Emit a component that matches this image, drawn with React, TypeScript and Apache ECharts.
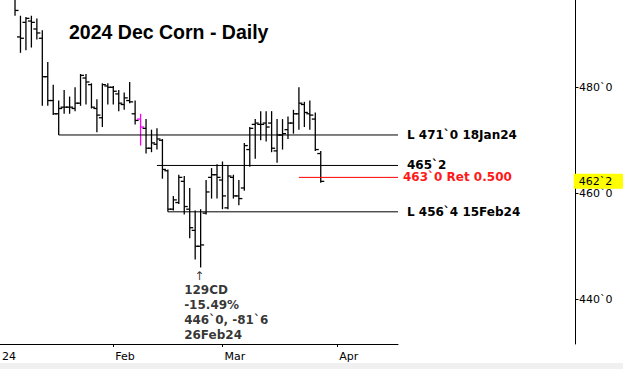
import React, { useEffect, useRef } from "react";
import * as echarts from "echarts";

// ---------- data ----------
const holidays = ["2024-01-15", "2024-02-19"];
const calendarStart = "2024-01-02";
const calendarEnd = "2024-04-19";
const firstBarDate = "2024-01-05";

const opens = [
  497.5, 489.5, 492.25, 492.5, 491, 489.25, 482, 477.5, 475, 476.25, 476.25, 476, 477, 481.75, 480.5, 476, 474.25, 480.25,
  480, 478.75, 476.75, 477.5, 475, 474, 472.25, 468.5, 469.25, 470, 464.25, 457, 458.25, 462.25, 457, 453, 450, 456.25,
  463, 463.5, 462.5, 457.25, 463, 459.5, 461, 468.25, 473, 473, 473.25, 473.25, 468, 471, 472, 473.25, 475, 476.75, 475,
  474, 467.5,
];
const highs = [
  498.5, 493.5, 493.25, 493.5, 493, 490.75, 484.75, 480.5, 477.5, 479.5, 478.25, 480, 482.5, 482.5, 480.75, 477.75, 480.75,
  480.75, 480.25, 479.5, 479, 481, 477.5, 475, 474, 472, 472.25, 470.25, 464.5, 459.5, 463.5, 463.25, 461, 456.75, 457,
  462.5, 464.75, 465.5, 466, 465.25, 463.5, 462.5, 469.5, 472.5, 474, 475.5, 475.5, 475.5, 474, 474, 474.5, 475.75, 480,
  477.25, 477.5, 475.25, 468,
];
const lows = [
  493.5, 486.5, 487, 487.5, 489, 476.5, 476.5, 474.75, 471, 475, 475, 475.5, 476.5, 476.75, 476, 471.5, 472.5, 476.75,
  476.75, 475.5, 475.75, 477, 473, 469, 467.5, 467.75, 468.25, 462.75, 456.5, 456.75, 458, 456, 451.5, 447.5, 446, 456,
  459, 459, 457, 457, 459, 457.75, 460.5, 465, 466.5, 470, 469.75, 467.75, 465.75, 468.25, 470.25, 471.25, 472, 472.5,
  472, 468, 462,
];
const closes = [
  494.5, 489.25, 493, 492.25, 490.25, 482, 477.5, 475, 476, 476.25, 476.25, 477, 482.25, 481, 476.25, 474.75, 480.5, 480,
  479.25, 477, 478, 477.25, 473.75, 472.5, 468.5, 469.5, 470.25, 464.5, 457, 458.75, 463, 457.5, 453.5, 450, 450.25,
  460.25, 463.5, 463, 459.5, 463.25, 459.5, 459, 469, 472.25, 473.25, 473, 472.5, 468.5, 471, 471.25, 473.25, 475, 477,
  475.25, 474.75, 468.25, 462.25,
];
const highlightDates = ["2024-02-08"];

const monthTickDates = ["2024-02-01", "2024-03-01", "2024-04-01"];
const monthTickLabels = ["Feb", "Mar", "Apr"];
const yearLabel = "24";

const priceTicks = [440, 460, 480];
const lastPrice = 462.25;

const levelStarts = ["2024-01-18", "2024-02-13", "2024-03-21", "2024-02-15"];
const levelPrices = [471, 465.25, 463, 456.5];
const levelTexts = ["L 471`0 18Jan24", "465`2", "463`0 Ret 0.500", "L 456`4 15Feb24"];
const levelKinds = ["black", "black", "red", "black"];

const lowDate = "2024-02-26";
const lowPrice = 446;
const lowNotes = ["129CD", "-15.49%", "446`0, -81`6", "26Feb24"];

const title = "2024 Dec Corn - Daily";

// ---------- helpers ----------
function buildDays(): string[] {
  const out: string[] = [];
  const d = new Date(calendarStart + "T00:00:00Z");
  const end = new Date(calendarEnd + "T00:00:00Z");
  while (d <= end) {
    const wd = d.getUTCDay();
    const s = d.toISOString().slice(0, 10);
    if (wd !== 0 && wd !== 6 && holidays.indexOf(s) < 0) out.push(s);
    d.setUTCDate(d.getUTCDate() + 1);
  }
  return out;
}
const days = buildDays();
const idx = (s: string) => days.indexOf(s);
const fmt = (v: number) => {
  const w = Math.floor(v + 1e-9);
  const e = Math.round((v - w) * 8);
  return `${w}\`${e}`;
};

const FONT = '"DejaVu Sans", Verdana, sans-serif';
const X_MIN = 0.25;
const X_MAX = 73.15;

export default function App() {
  const ref = useRef<HTMLDivElement>(null);
  useEffect(() => {
    if (!ref.current) return;
    const chart = echarts.init(ref.current, undefined, { renderer: "svg" });
    const first = idx(firstBarDate);
    const bars = opens.map((o, k) => {
      const di = first + k;
      const hl = highlightDates.indexOf(days[di]) >= 0 ? 1 : 0;
      return [di, o, highs[k], lows[k], closes[k], hl];
    });
    const monthIdx = monthTickDates.map(idx);

    const makeLevel = (k: number) => {
      const red = levelKinds[k] === "red";
      const color = red ? "#ff0000" : "#000000";
      return {
        type: "line",
        silent: true,
        clip: false,
        showSymbol: false,
        symbol: "none",
        color,
        lineStyle: { color, width: 1, type: "solid" },
        itemStyle: { color },
        emphasis: { disabled: true },
        data: [
          [idx(levelStarts[k]), levelPrices[k]],
          [X_MAX, levelPrices[k]],
        ],
        endLabel: {
          show: true,
          distance: red ? 5 : 9,
          formatter: () => levelTexts[k],
          color: red ? "#ff1a1a" : "#000000",
          fontFamily: FONT,
          fontWeight: "bold",
          fontSize: 12,
        },
      };
    };

    chart.setOption({
      animation: false,
      backgroundColor: "#ffffff",
      title: {
        text: title,
        left: 69,
        top: 22,
        padding: 0,
        textStyle: { fontFamily: '"Liberation Sans", Arial, sans-serif', fontWeight: "bold", fontSize: 19.5, color: "#000" },
      },
      grid: { left: 0, top: 0, width: 398, height: 344, containLabel: false, outerBoundsMode: "none" },
      xAxis: {
        type: "value",
        min: X_MIN,
        max: X_MAX,
        splitLine: { show: false },
        axisLine: { show: true, onZero: false, lineStyle: { color: "#000", width: 1 } },
        axisTick: { show: true, customValues: monthIdx, length: 3, lineStyle: { color: "#000" } },
        axisLabel: {
          show: true,
          customValues: [X_MIN, ...monthIdx],
          align: "left",
          margin: 7,
          padding: [0, 0, 0, 2],
          color: "#000",
          fontFamily: FONT,
          fontSize: 11,
          formatter: (v: number) => {
            const m = monthIdx.indexOf(Math.round(v));
            if (m >= 0) return monthTickLabels[m];
            return v < 1 ? yearLabel : "";
          },
        },
      },
      yAxis: [
        {
          type: "value",
          position: "right",
          offset: 177,
          min: 431.56,
          max: 496.47,
          splitLine: { show: false },
          axisLine: { show: true, lineStyle: { color: "#000", width: 1 } },
          axisTick: { show: true, customValues: priceTicks, length: 3.5, lineStyle: { color: "#000" } },
          axisLabel: {
            show: true,
            customValues: priceTicks,
            margin: 4,
            color: "#000",
            fontFamily: FONT,
            fontSize: 11,
            formatter: (v: number) => fmt(v),
          },
        },
        {
          type: "value",
          position: "right",
          offset: 177,
          min: 431.56,
          max: 496.47,
          splitLine: { show: false },
          axisLine: { show: false },
          axisTick: { show: false },
          axisLabel: {
            show: true,
            customValues: [lastPrice],
            margin: -1.3,
            color: "#000",
            fontFamily: FONT,
            fontSize: 11,
            backgroundColor: "#ffff00",
            padding: [2, 30, 2, 5],
            formatter: (v: number) => fmt(v),
          },
        },
      ],
      series: [
        {
          type: "custom",
          clip: true,
          silent: true,
          encode: { x: 0, y: [1, 2, 3, 4] },
          data: bars,
          renderItem: (params: any, api: any) => {
            const x = api.value(0);
            const pO = api.coord([x, api.value(1)]);
            const pH = api.coord([x, api.value(2)]);
            const pL = api.coord([x, api.value(3)]);
            const pC = api.coord([x, api.value(4)]);
            const color = api.value(5) ? "#ff00ff" : "#000000";
            const st = { stroke: color, lineWidth: 1.3 };
            const t = 3.5;
            return {
              type: "group",
              children: [
                { type: "line", shape: { x1: pH[0], y1: pH[1], x2: pL[0], y2: pL[1] }, style: st },
                { type: "line", shape: { x1: pO[0] - t, y1: pO[1], x2: pO[0], y2: pO[1] }, style: st },
                { type: "line", shape: { x1: pC[0], y1: pC[1], x2: pC[0] + t, y2: pC[1] }, style: st },
              ],
            };
          },
        },
        ...levelStarts.map((_, k) => makeLevel(k)),
        {
          type: "scatter",
          silent: true,
          symbolSize: 1,
          itemStyle: { color: "rgba(0,0,0,0)" },
          data: [[idx(lowDate), lowPrice]],
          label: {
            show: true,
            position: [-16, 2],
            align: "left",
            verticalAlign: "top",
            formatter: ["{a|\u2191}", ...lowNotes.map((s) => `{b|${s}}`)].join("\n"),
            rich: {
              a: { fontFamily: FONT, fontSize: 12, lineHeight: 14, color: "#000", padding: [0, 0, 0, 10] },
              b: { fontFamily: FONT, fontSize: 12, fontWeight: "bold", lineHeight: 14.8, color: "#000" },
            },
          },
        },
      ],
    });
    return () => chart.dispose();
  }, []);

  return (
    <div style={{ position: "fixed", left: 0, top: 0, width: 623, height: 369, background: "#f0f0f0" }}>
      <div ref={ref} style={{ width: 623, height: 363, background: "#ffffff" }} />
    </div>
  );
}
